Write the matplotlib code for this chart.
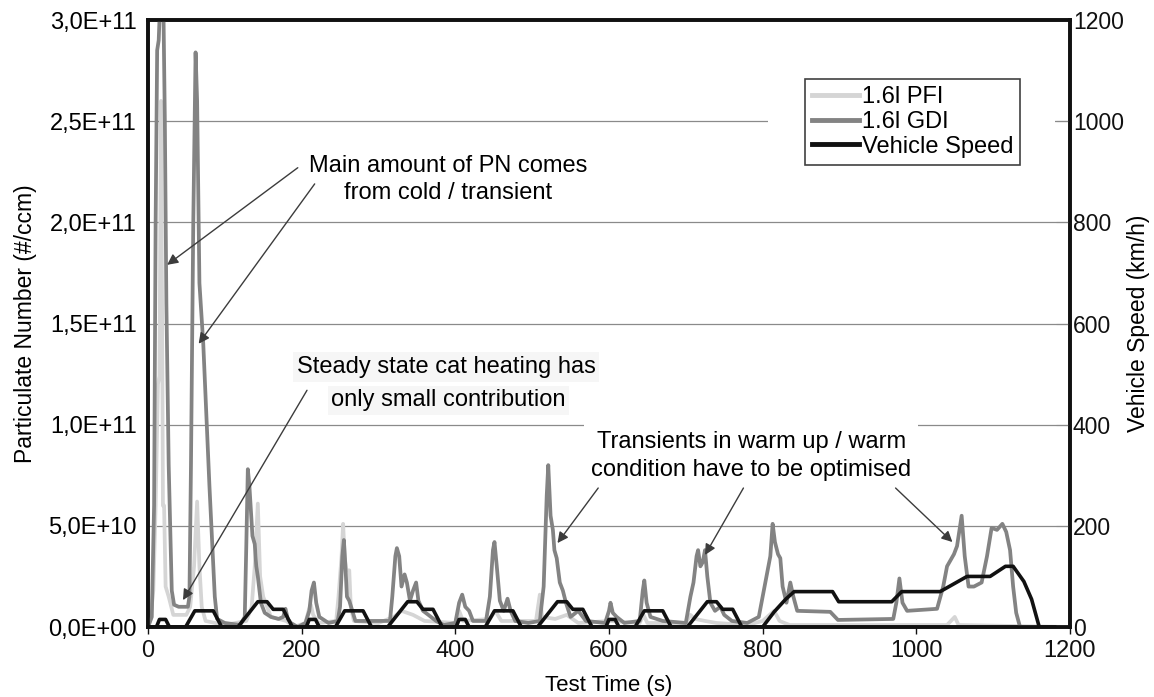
import matplotlib
matplotlib.use("Agg")
import matplotlib.pyplot as plt
from matplotlib.lines import Line2D

plt.rcParams['font.family'] = ['Liberation Sans', 'DejaVu Sans']

# particulate number, in units of 1E+10 #/ccm, as (time s, value)
gdi_points = [(0, 0), (5, 0.5), (8, 6), (10, 20), (12, 28.5), (14, 29), (16, 31), (20, 31), (22, 25),
              (24, 16), (27, 8), (31, 1.8), (34, 1.1), (40, 1.0), (52, 1.0), (54, 1.5), (56, 8), (59, 20),
              (62, 28.4), (64, 26), (67, 17), (72, 14), (77, 9.6), (80, 7), (83, 4.6), (87, 1.5), (90, 0.4),
              (100, 0.2), (120, 0.1), (126, 0.5), (128, 4), (130, 7.8), (132, 7), (136, 4.5), (139, 4.1),
              (141, 3), (143, 2.5), (147, 1.2), (152, 0.7), (160, 0.5), (170, 0.4), (176, 0.5), (179, 0.9),
              (182, 0.4), (186, 0.2), (195, 0), (205, 0.2), (210, 0.8), (213, 1.8), (216, 2.2), (219, 1.2),
              (223, 0.5), (235, 0.2), (247, 0.3), (250, 1), (253, 3.5), (255, 4.3), (257, 3), (259, 1.5),
              (262, 1.3), (270, 0.3), (315, 0.3), (318, 1.5), (322, 3.5), (324, 3.9), (327, 3.5), (330, 2),
              (334, 2.6), (337, 2.2), (341, 1.3), (345, 1.8), (349, 2.2), (352, 1.3), (358, 0.8), (365, 0.6),
              (375, 0.3), (385, 0.1), (400, 0.2), (405, 1.2), (409, 1.6), (413, 1.0), (418, 0.8), (423, 0.3),
              (440, 0.3), (445, 1.5), (449, 3.8), (451, 4.2), (454, 3), (458, 1.3), (463, 0.8), (468, 1.4),
              (472, 0.8), (478, 0.3), (495, 0.2), (510, 0.3), (515, 2), (519, 6.5), (521, 8.0), (524, 5.5),
              (527, 4.8), (529, 3.8), (532, 3.4), (536, 2.2), (540, 1.8), (544, 1.2), (550, 0.5), (560, 0.8),
              (570, 0.3), (595, 0.2), (600, 0.8), (602, 1.2), (605, 0.7), (610, 0.5), (620, 0.2), (640, 0.3),
              (644, 1.8), (646, 2.3), (649, 1.2), (654, 0.5), (670, 0.3), (700, 0.2), (706, 1.5), (710, 2.2),
              (714, 3.5), (716, 3.8), (719, 3.0), (722, 3.2), (725, 3.8), (728, 2.5), (732, 1.2), (738, 0.8),
              (745, 1.0), (750, 0.6), (760, 0.3), (780, 0.2), (795, 0.5), (800, 1.5), (805, 2.5), (810, 3.5),
              (813, 5.1), (816, 4.2), (820, 3.6), (823, 3.4), (826, 2.0), (831, 1.2), (836, 2.2), (840, 1.5),
              (845, 0.8), (888, 0.75), (898, 0.35), (970, 0.4), (974, 1.2), (978, 2.4), (982, 1.2), (988, 0.8),
              (1027, 0.9), (1035, 2.0), (1040, 3.0), (1049, 3.6), (1053, 4.0), (1059, 5.5), (1063, 3.5),
              (1068, 2.0), (1075, 2.0), (1085, 2.2), (1092, 3.5), (1098, 4.9), (1105, 4.8), (1112, 5.1),
              (1117, 4.7), (1122, 3.8), (1126, 2.0), (1130, 0.7), (1135, 0), (1200, 0)]

pfi_points = [(0, 0), (3, 0.3), (7, 1.8), (10, 6), (13, 12), (15, 12.4), (17, 26), (18.5, 15), (19.5, 6),
              (21, 6), (23, 2), (27, 1.5), (33, 0.6), (50, 0.6), (55, 1), (60, 3), (64, 6.2), (67, 3),
              (70, 1), (75, 0.3), (100, 0.1), (128, 0.3), (135, 1), (139, 3), (143, 6.1), (146, 2.5),
              (150, 1.5), (160, 0.5), (180, 0.3), (190, 0), (205, 0.2), (209, 0.8), (212, 1.1), (215, 0.6),
              (222, 0.2), (245, 0.3), (248, 1.5), (250, 2.5), (252, 3.5), (254, 5.1), (256, 3.5), (258, 2.8),
              (262, 2.8), (264, 1.0), (268, 0.3), (300, 0.2), (320, 0.5), (330, 0.8), (345, 0.6), (360, 0.3),
              (400, 0.2), (405, 0.8), (410, 0.3), (445, 0.4), (452, 0.8), (460, 0.3), (505, 0.3), (510, 1.6),
              (513, 0.5), (530, 0.4), (545, 0.6), (560, 0.2), (600, 0.3), (640, 0.2), (645, 0.6), (650, 0.2),
              (700, 0.2), (706, 0.6), (712, 0.4), (725, 0.3), (740, 0.2), (780, 0.1), (800, 0.3), (815, 0.8),
              (822, 0.3), (835, 0.1), (1040, 0.1), (1050, 0.5), (1055, 0.1), (1200, 0)]

# vehicle speed in km/h (4x ECE + EUDC)
speed_points = [(0, 0), (11, 0), (15, 15), (23, 15), (28, 0), (49, 0), (61, 32), (85, 32), (96, 0),
                (117, 0), (143, 50), (155, 50), (163, 35), (176, 35), (188, 0), (195, 0),
                (206, 0), (210, 15), (218, 15), (223, 0), (244, 0), (256, 32), (280, 32), (291, 0),
                (312, 0), (338, 50), (350, 50), (358, 35), (371, 35), (383, 0), (390, 0),
                (401, 0), (405, 15), (413, 15), (418, 0), (439, 0), (451, 32), (475, 32), (486, 0),
                (507, 0), (533, 50), (545, 50), (553, 35), (566, 35), (578, 0), (585, 0),
                (596, 0), (600, 15), (608, 15), (613, 0), (634, 0), (646, 32), (670, 32), (681, 0),
                (702, 0), (728, 50), (740, 50), (748, 35), (761, 35), (773, 0), (780, 0),
                (800, 0), (815, 30), (830, 55), (841, 70), (891, 70), (899, 50), (968, 50), (981, 70),
                (1031, 70), (1066, 100), (1096, 100), (1116, 120), (1126, 120), (1140, 90), (1150, 55),
                (1160, 0), (1180, 0)]

pn_ticks = [0, 5, 10, 15, 20, 25, 30]
pn_labels = ["0,0E+00", "5,0E+10", "1,0E+11", "1,5E+11", "2,0E+11", "2,5E+11", "3,0E+11"]
speed_ticks = [0, 200, 400, 600, 800, 1000, 1200]
time_ticks = [0, 200, 400, 600, 800, 1000, 1200]

c_pfi = '#d5d5d5'
c_gdi = '#838383'
c_spd = '#111111'

fig = plt.figure(figsize=(11.54, 6.97), dpi=100)
ax = fig.add_axes([0.1282, 0.1004, 0.7990, 0.8709])
ax2 = ax.twinx()

ax.plot([p[0] for p in pfi_points], [p[1] for p in pfi_points], color=c_pfi, lw=2.7,
        solid_joinstyle='round', zorder=2)
ax.plot([p[0] for p in gdi_points], [p[1] for p in gdi_points], color=c_gdi, lw=2.7,
        solid_joinstyle='round', zorder=3)
ax2.plot([p[0] for p in speed_points], [p[1] for p in speed_points], color=c_spd, lw=2.6,
         solid_joinstyle='round', zorder=3)

ax.set_xlim(0, 1200)
ax.set_ylim(0, 30)
ax2.set_ylim(0, 1200)
ax.set_xticks(time_ticks)
ax.set_yticks(pn_ticks)
ax.set_yticklabels(pn_labels)
ax2.set_yticks(speed_ticks)
ax.yaxis.grid(True, color='#8a8a8a', lw=0.9)
ax.set_axisbelow(True)

ax.tick_params(axis='y', length=0, labelsize=17, pad=8)
ax.tick_params(axis='x', length=5, width=1, labelsize=17, pad=4, colors='#111111')
ax2.tick_params(axis='y', direction='in', length=10, width=0.8, color='#8a8a8a',
                labelsize=16.5, pad=2, labelcolor='#111111')

for a in (ax, ax2):
    for s in a.spines.values():
        s.set_linewidth(2.6)
        s.set_color('#111111')

ax.set_xlabel('Test Time (s)', fontsize=16, labelpad=10)
ax.set_ylabel('Particulate Number (#/ccm)', fontsize=16.5, labelpad=8)
ax2.set_ylabel('Vehicle Speed (km/h)', fontsize=16.5, labelpad=2)

# white area behind the legend hiding the gridline
ax.fill_between([807, 1181], 23.5, 28, color='white', lw=0, zorder=1.5)

arrow = dict(arrowstyle='-|>', color='#3c3c3c', lw=1.0, mutation_scale=16, shrinkA=0, shrinkB=0)

ax.text(391, 22.1, 'Main amount of PN comes\nfrom cold / transient', ha='center', va='center',
        fontsize=17, linespacing=1.3, zorder=4)
ax.annotate('', xy=(25, 17.9), xytext=(195, 22.7), arrowprops=arrow, zorder=4)
ax.annotate('', xy=(66, 14.0), xytext=(217, 21.9), arrowprops=arrow, zorder=4)

box_ss = dict(boxstyle='square,pad=0.15', fc='#f6f6f6', ec='none')
ax.text(388, 12.85, 'Steady state cat heating has', ha='center', va='center', fontsize=17,
        bbox=box_ss, zorder=4)
ax.text(391, 11.2, 'only small contribution', ha='center', va='center', fontsize=17,
        bbox=box_ss, zorder=4)
ax.annotate('', xy=(45.6, 1.33), xytext=(207, 11.7), arrowprops=arrow, zorder=4)

ax.text(785, 8.45, 'Transients in warm up / warm\ncondition have to be optimised', ha='center',
        va='center', fontsize=17, linespacing=1.4, zorder=4,
        bbox=dict(boxstyle='square,pad=0.3', fc='white', ec='none'))
ax.annotate('', xy=(533, 4.15), xytext=(586, 6.87), arrowprops=arrow, zorder=4)
ax.annotate('', xy=(725, 3.56), xytext=(775, 6.87), arrowprops=arrow, zorder=4)
ax.annotate('', xy=(1047, 4.2), xytext=(973, 6.87), arrowprops=arrow, zorder=4)

handles = [Line2D([], [], color=c_pfi, lw=3.5), Line2D([], [], color=c_gdi, lw=3.5),
           Line2D([], [], color=c_spd, lw=3.5)]
leg = ax2.legend(handles, ['1.6l PFI', '1.6l GDI', 'Vehicle Speed'], loc='upper left',
                 bbox_to_anchor=(0.7126, 0.9028), fontsize=17, frameon=True, fancybox=False,
                 borderpad=0.3, labelspacing=0.12, handlelength=2.0, handletextpad=0.1,
                 borderaxespad=0.0)
leg.get_frame().set_edgecolor('#111111')
leg.get_frame().set_linewidth(1.2)

fig.savefig('out.png', dpi=100)
